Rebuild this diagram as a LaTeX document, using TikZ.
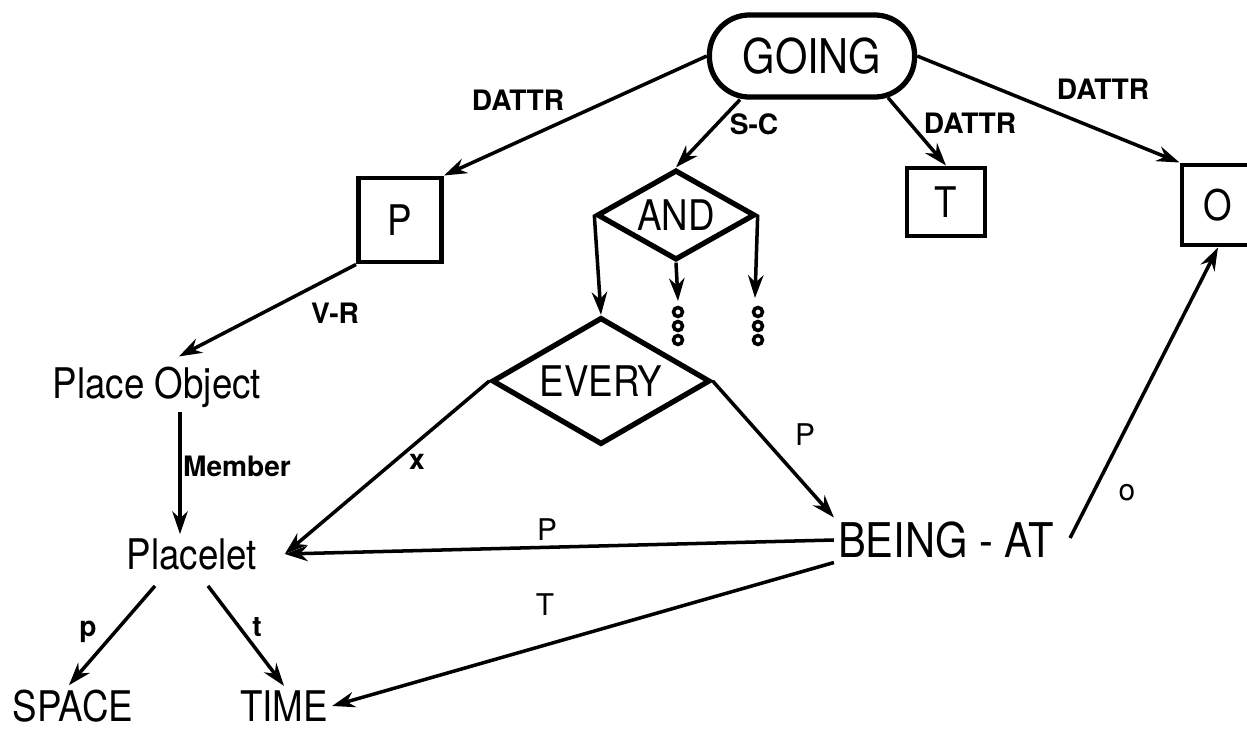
\documentclass[tikz,border=0pt]{standalone}
\usepackage{fontspec}
\setmainfont{TeX Gyre Heros}
\newfontfamily\narrowfont[FakeStretch=0.87]{TeX Gyre Heros}
\usetikzlibrary{shapes.geometric,arrows.meta,calc}

\tikzset{
  concept/.style={font=\narrowfont\fontsize{12}{14}\selectfont, inner sep=1pt},
  bigconcept/.style={font=\narrowfont\fontsize{13.6}{15}\selectfont, inner sep=1pt},
  slotbox/.style={draw, line width=1.4pt, inner sep=0pt, font=\narrowfont\fontsize{12}{14}\selectfont},
  choice/.style={diamond, draw, line width=1.5pt, inner sep=0pt, aspect=1.8, font=\narrowfont\fontsize{12}{14}\selectfont},
  link/.style={-{Stealth[length=6.5pt,width=4.4pt]}, line width=1pt},
  tag/.style={font=\bfseries\fontsize{8}{9}\selectfont, inner sep=1pt},
  letter/.style={font=\fontsize{8.5}{9}\selectfont, inner sep=1pt},
}

\begin{document}
\begin{tikzpicture}[x=0.01cm, y=-0.01cm]
    \useasboundingbox (0,0) rectangle (1247,730);

    % frames
    \node[bigconcept, draw, line width=1.5pt, rounded corners=0.4cm,
          minimum width=2.05cm, minimum height=0.82cm] (going) at (812,56) {GOING};
    \node[slotbox, minimum width=0.83cm, minimum height=0.84cm] (pbox) at (400,220) {P};
    \node[slotbox, minimum width=0.78cm, minimum height=0.68cm] (tbox) at (946,202) {T};
    \node[slotbox, minimum width=0.72cm, minimum height=0.80cm] (obox) at (1218,205) {O};

    \node[choice, minimum width=1.58cm, minimum height=0.90cm] (and) at (676,215) {AND};
    \node[choice, minimum width=2.18cm, minimum height=1.27cm] (every) at (601,381) {EVERY};

    % concepts
    \node[concept] (placeobj) at (157,387) {Place Object};
    \node[concept, inner xsep=0.27cm] (placelet) at (192,554) {Placelet};
    \node[concept, inner ysep=0pt] (space) at (73,706) {SPACE};
    \node[concept, inner ysep=0pt] (time) at (284,706) {TIME};
    \node[bigconcept] (beingat) at (946,540) {BEING - AT};

    % continuation marks under AND
    \coordinate (moreA) at (678,301);
    \coordinate (moreB) at (755,298);
    \foreach \y in {312,326,340} {
        \draw[line width=1pt] (678,\y) circle (0.045cm);
        \draw[line width=1pt] (758,\y) circle (0.045cm);
    }

    % links from GOING
    \draw[link] (going.west) -- (pbox.north east);
    \draw[link] ($(going.south)+(-72,0)$) -- (and.north);
    \draw[link] ($(going.south)+(76,-2)$) -- (tbox.north);
    \draw[link] (going.east) -- (obox.north west);

    \draw[link] (pbox.south west) -- ($(placeobj.north)+(22,-6)$);
    \draw[link] (and.west) -- (every.north);
    \draw[link] (and.south) -- (moreA);
    \draw[link] (and.east) -- (moreB);

    \draw[link] (every.west) -- (placelet.east);
    \draw[link] (every.east) -- (beingat.north west);
    \draw[link] (beingat.west) -- (placelet.east);
    \draw[link] (beingat.south west) -- (time.east);
    \draw[link] ($(beingat.east)+(12,-2)$) -- (obox.south);

    \draw[link] ($(placeobj.south)+(23,0)$) -- ($(placelet.north)+(-12,0)$);
    \draw[link] ($(placelet.south)+(-37,12)$) -- ($(space.north)+(-4,-4)$);
    \draw[link] ($(placelet.south)+(16,12)$) -- ($(time.north)+(0,-4)$);

    % labels
    \node[tag] (lgp) at (518,100) {DATTR};
    \node[tag] (lsc) at (754,124) {S-C};
    \node[tag] (lgt) at (970,123) {DATTR};
    \node[tag] (lgo) at (1103,89) {DATTR};
    \node[tag] (lvr) at (335,313) {V-R};
    \node[tag] (lmem) at (237,466) {Member};
    \node[tag] (lx) at (417,462) {x};
    \node[letter] (lp1) at (805,435) {P};
    \node[letter] (lp2) at (547,530) {P};
    \node[letter] (lt) at (545,605) {T};
    \node[tag] (lsp) at (88,632) {p};
    \node[tag] (ltm) at (257,627) {t};
    \node[letter] (lo) at (1127,493) {o};
\end{tikzpicture}
\end{document}
